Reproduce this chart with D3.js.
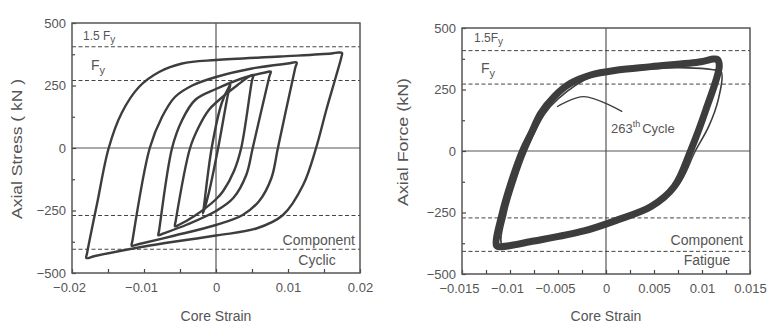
<!DOCTYPE html>
<html>
<head>
<meta charset="utf-8">
<script src="https://cdn.jsdelivr.net/npm/d3@7"></script>
<style>
  body { margin: 0; background: #fff; }
  svg text { font-family: "Liberation Sans", Arial, sans-serif; fill: #555; }
</style>
</head>
<body>
<svg id="chart" width="769" height="325"></svg>
<script>
// ---- data: left panel (component cyclic test) ----
var cyclicXTicks = [-0.02, -0.01, 0, 0.01, 0.02];
var cyclicXMinor = [-0.015, -0.005, 0.005, 0.015];
var cyclicLimits = [405, 270, -270, -405];   // 1.5Fy, Fy, -Fy, -1.5Fy

var yTicks = [-500, -250, 0, 250, 500];
var yMinor = [-375, -125, 125, 375];

// loops as [core strain, axial stress], each closed
var cycle1 = [[0.0020, 254], [0.0017, 220], [0.0003, 0], [-0.0010, -180], [-0.0018, -262],
  [-0.0017, -240], [-0.0006, 0], [0.0008, 180], [0.0019, 250]];
var cycle2 = [[0.0052, 292], [0.0050, 270], [0.0035, 0], [0.0025, -92], [0.0010, -172], [0, -205],
  [-0.0030, -272], [-0.0052, -308], [-0.0057, -313], [-0.0056, -292], [-0.0036, 0], [-0.0024, 84],
  [-0.0010, 152], [0.0001, 184], [0.0030, 252], [0.0048, 289]];
var cycle3 = [[0.0076, 306], [0.0074, 285], [0.0051, 0], [0.0042, -108], [0.0024, -200], [0, -252],
  [-0.0040, -306], [-0.0074, -343], [-0.0080, -349], [-0.0079, -330], [-0.0061, 0], [-0.0047, 112],
  [-0.0029, 192], [0, 236], [0.0040, 282], [0.0070, 303]];
var cycle4 = [[0.0112, 342], [0.0110, 320], [0.0086, 0], [0.0077, -120], [0.0060, -212], [0.0037, -268],
  [0, -308], [-0.0060, -352], [-0.0108, -385], [-0.0117, -391], [-0.0116, -370], [-0.0092, 0],
  [-0.0075, 124], [-0.0057, 204], [-0.0033, 250], [0, 284], [0.0050, 318], [0.0100, 338]];
var cycle5 = [[0.0175, 380], [0.0174, 362], [0.0166, 280], [0.0153, 150], [0.0139, 0], [0.0121, -148],
  [0.0093, -268], [0.0056, -322], [0, -350], [-0.0092, -390], [-0.0168, -432], [-0.0180, -440],
  [-0.0179, -420], [-0.0165, -220], [-0.0149, 0], [-0.0131, 140], [-0.0107, 244], [-0.0079, 304],
  [-0.0047, 338], [0, 352], [0.0089, 366], [0.0160, 378], [0.0170, 382]];
var cyclicLoops = [cycle1, cycle2, cycle3, cycle4, cycle5];

// ---- data: right panel (component fatigue test) ----
var fatigueXTicks = [-0.015, -0.01, -0.005, 0, 0.005, 0.01, 0.015];
var fatigueXMinor = [-0.0125, -0.0075, -0.0025, 0.0025, 0.0075, 0.0125];
var fatigueLimits = [408, 272, -272, -408];

var fatigueBand = [[0.0116, 372], [0.0118, 345], [0.0104, 167], [0.0088, 0], [0.0071, -145],
  [0.0047, -226], [0.0012, -280], [-0.0023, -325], [-0.0075, -366], [-0.0110, -389], [-0.0114, -385],
  [-0.0108, -252], [-0.0099, -130], [-0.0087, 0], [-0.0078, 72], [-0.0068, 153], [-0.0054, 221],
  [-0.0037, 275], [-0.0016, 309], [0.0012, 329], [0.0047, 343], [0.0099, 363], [0.0112, 374]];
var cycle263 = [[0.0120, 322], [0.0117, 210], [0.0107, 100], [0.0093, 0], [0.0075, -140],
  [0.0047, -222], [0.0012, -276], [-0.0023, -320], [-0.0075, -360], [-0.0108, -382], [-0.0104, -252],
  [-0.0095, -130], [-0.0083, 0], [-0.0064, 150], [-0.0050, 212], [-0.0016, 300], [0.0047, 334],
  [0.0085, 338], [0.0110, 331]];
var leader263 = [[-0.0051, 180], [-0.0023, 221], [0.0017, 160]];

var svg = d3.select("#chart");
var ink = "#3d3d3d";
var fmt = d3.format("~g");

function drawPanel(o) {
  var x = d3.scaleLinear().domain(o.xDomain).range(o.xRange);
  var y = d3.scaleLinear().domain([-500, 500]).range(o.yRange);
  var g = svg.append("g");

  // zero cross lines
  g.append("line").attr("x1", x.range()[0]).attr("x2", x.range()[1])
    .attr("y1", y(0)).attr("y2", y(0)).attr("stroke", "#555").attr("stroke-width", 1.2);
  g.append("line").attr("x1", x(0)).attr("x2", x(0))
    .attr("y1", y.range()[0]).attr("y2", y.range()[1]).attr("stroke", "#555").attr("stroke-width", 1.2);

  // yield levels
  g.selectAll(".lim").data(o.limits).enter().append("line")
    .attr("x1", x.range()[0]).attr("x2", x.range()[1])
    .attr("y1", function(d) { return y(d); }).attr("y2", function(d) { return y(d); })
    .attr("stroke", "#444").attr("stroke-width", 1).attr("stroke-dasharray", "4,2.5");

  // axes (ticks point inwards)
  var ax = g.append("g").attr("transform", "translate(0," + y.range()[0] + ")")
    .call(d3.axisBottom(x).tickValues(o.xTicks).tickFormat(fmt).tickSizeInner(-4).tickSizeOuter(0).tickPadding(10));
  ax.selectAll("text").attr("dx", function(d) { return d < 0 ? -3 : 0; });
  g.append("g").attr("transform", "translate(0," + y.range()[0] + ")")
    .call(d3.axisBottom(x).tickValues(o.xMinor).tickFormat("").tickSizeInner(-4).tickSizeOuter(0));
  g.append("g").attr("transform", "translate(" + x.range()[0] + ",0)")
    .call(d3.axisLeft(y).tickValues(yTicks).tickFormat(fmt).tickSizeInner(-4).tickSizeOuter(0).tickPadding(6));
  g.append("g").attr("transform", "translate(" + x.range()[0] + ",0)")
    .call(d3.axisLeft(y).tickValues(yMinor).tickFormat("").tickSizeInner(-3).tickSizeOuter(0));
  g.selectAll(".domain").remove();
  g.selectAll(".tick line").attr("stroke", "#444").attr("stroke-width", 1.2);
  g.selectAll(".tick text").attr("font-size", 13).attr("fill", "#555")
    .attr("font-family", "'Liberation Sans', Arial, sans-serif");

  // frame
  g.append("rect").attr("x", x.range()[0]).attr("y", y.range()[1])
    .attr("width", x.range()[1] - x.range()[0]).attr("height", y.range()[0] - y.range()[1])
    .attr("fill", "none").attr("stroke", "#555").attr("stroke-width", 1.5);

  // axis titles
  g.append("text").attr("x", x(0)).attr("y", 321).attr("text-anchor", "middle")
    .attr("font-size", 14).text("Core Strain");
  g.append("text").attr("transform", "translate(" + o.yTitleX + "," + o.yTitleY + ") rotate(-90)")
    .attr("text-anchor", "middle").attr("font-size", 14)
    .attr("textLength", o.yTitleLen).attr("lengthAdjust", "spacingAndGlyphs").text(o.yTitle);

  return { x: x, y: y, g: g };
}

function loopLine(p) {
  return d3.line().x(function(d) { return p.x(d[0]); }).y(function(d) { return p.y(d[1]); })
    .curve(d3.curveCatmullRomClosed.alpha(0.5));
}

function fyLabels(g, x1, y1, x2, y2) {
  var t1 = g.append("text").attr("x", x1).attr("y", y1).attr("font-size", 12);
  t1.append("tspan").text(o_lbl15);
  t1.append("tspan").attr("font-size", 10).attr("dy", 3).text("y");
  var t2 = g.append("text").attr("x", x2).attr("y", y2).attr("font-size", 14);
  t2.append("tspan").text("F");
  t2.append("tspan").attr("font-size", 11).attr("dy", 4).text("y");
}
var o_lbl15 = "1.5 F";

// ---- left panel ----
var left = drawPanel({
  xDomain: [-0.02, 0.02], xRange: [72, 360], yRange: [273, 23],
  xTicks: cyclicXTicks, xMinor: cyclicXMinor, limits: cyclicLimits,
  yTitle: "Axial Stress ( kN )", yTitleX: 22, yTitleY: 149, yTitleLen: 140
});
left.g.selectAll(".loop").data(cyclicLoops).enter().append("path")
  .attr("d", loopLine(left)).attr("fill", "none").attr("stroke", ink)
  .attr("stroke-width", 2.4).attr("stroke-linejoin", "round");
fyLabels(left.g, 83, 40, 91, 70);
left.g.append("text").attr("x", 355).attr("y", 245).attr("text-anchor", "end").attr("font-size", 14).text("Component");
left.g.append("text").attr("x", 317).attr("y", 265).attr("text-anchor", "middle").attr("font-size", 14).text("Cyclic");

// ---- right panel ----
var right = drawPanel({
  xDomain: [-0.015, 0.015], xRange: [462, 750], yRange: [274, 28],
  xTicks: fatigueXTicks, xMinor: fatigueXMinor, limits: fatigueLimits,
  yTitle: "Axial Force (kN)", yTitleX: 408, yTitleY: 142, yTitleLen: 128
});
right.g.append("path").datum(fatigueBand).attr("d", loopLine(right)).attr("fill", "none")
  .attr("stroke", ink).attr("stroke-width", 7).attr("stroke-linejoin", "round");
right.g.append("path").datum(cycle263).attr("d", loopLine(right)).attr("fill", "none")
  .attr("stroke", ink).attr("stroke-width", 1.6);
right.g.append("path").datum(leader263)
  .attr("d", d3.line().x(function(d) { return right.x(d[0]); }).y(function(d) { return right.y(d[1]); })
    .curve(d3.curveCatmullRom.alpha(0.5)))
  .attr("fill", "none").attr("stroke", ink).attr("stroke-width", 1.3);
o_lbl15 = "1.5F";
fyLabels(right.g, 474, 42, 481, 73);
var lbl = right.g.append("text").attr("x", 611).attr("y", 133).attr("font-size", 13);
lbl.append("tspan").text("263");
lbl.append("tspan").attr("font-size", 9).attr("dy", -6).text("th");
lbl.append("tspan").attr("dy", 6).attr("dx", 2).text("Cycle");
right.g.append("text").attr("x", 743).attr("y", 245).attr("text-anchor", "end").attr("font-size", 14).text("Component");
right.g.append("text").attr("x", 707).attr("y", 265).attr("text-anchor", "middle").attr("font-size", 14).text("Fatigue");
</script>
</body>
</html>
